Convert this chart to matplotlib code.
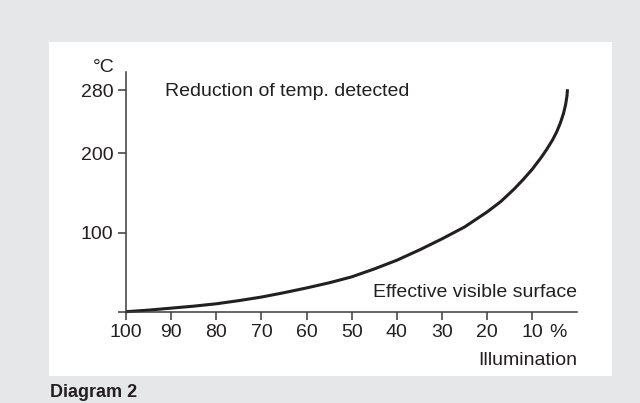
import matplotlib
matplotlib.use("Agg")
import matplotlib.pyplot as plt
from matplotlib.patches import Rectangle

plt.rcParams['font.family'] = ['Liberation Sans', 'DejaVu Sans']

# illumination (%) vs. reduction of detected temperature (°C)
illum = [100, 95, 90, 85, 80, 75, 70, 65, 60, 55, 50, 45, 40, 35, 30,
         25, 20, 17, 14, 12, 10, 8, 6.8, 5.5, 4.6, 3.8, 3.1, 2.6, 2.3, 2.2]
temp = [0, 2, 4.5, 7, 10, 14, 18.5, 24, 30, 36.5, 44, 54, 65, 78, 92,
        107, 126, 139, 155, 167, 180, 195, 205, 217, 227, 238, 250, 262, 273, 281]

xticks = [100, 90, 80, 70, 60, 50, 40, 30, 20, 10]
xlabels = ['100', '90', '80', '70', '60', '50', '40', '30', '20', '10']
yticks = [0, 100, 200, 280]
ylabels = ['', '100', '200', '280']

ink = '#231f20'
W, H = 640, 403
fs = 14

fig = plt.figure(figsize=(6.4, 4.03), dpi=100, facecolor='#e6e7e9')
# white panel
fig.patches.append(Rectangle((49 / W, (H - 376) / H), (612 - 49) / W, (376 - 42) / H,
                             transform=fig.transFigure, facecolor='white',
                             edgecolor='none', zorder=-10))

ax = fig.add_axes([126 / W, (H - 311.7) / H, (577.4 - 126) / W, (311.7 - 72.3) / H])
ax.set_facecolor('none')
ax.plot(illum, temp, color=ink, lw=2.2, solid_capstyle='butt',
        solid_joinstyle='round', clip_on=False)

ax.set_xlim(100, 0)
ax.set_ylim(0, 302.4)
ax.set_xticks(xticks)
ax.set_xticklabels(xlabels)
ax.set_yticks(yticks)
ax.set_yticklabels(ylabels)

for s in ['top', 'right']:
    ax.spines[s].set_visible(False)
for s in ['left', 'bottom']:
    ax.spines[s].set_color('#3a3a3a')
    ax.spines[s].set_linewidth(1.1)
ax.tick_params(direction='out', length=6, width=1.1, color='#3a3a3a',
               labelsize=fs, labelcolor=ink, pad=3)

ax.annotate('%', xy=(4.3, 0), xycoords='data', xytext=(0, -9.0),
            textcoords='offset points', ha='center', va='top',
            fontsize=fs, color=ink, annotation_clip=False)

ax.annotate('°C', xy=(0, 1.0), xycoords='axes fraction', xytext=(-8.5, 0),
            textcoords='offset points', ha='right', va='baseline',
            fontsize=fs, color=ink)
ax.text(0.0864, 0.901, 'Reduction of temp. detected', transform=ax.transAxes,
        ha='left', va='baseline', fontsize=fs, color=ink)
ax.text(1.0, 0.0627, 'Effective visible surface', transform=ax.transAxes,
        ha='right', va='baseline', fontsize=fs, color=ink)
ax.text(1.0, -0.2226, 'Illumination', transform=ax.transAxes,
        ha='right', va='baseline', fontsize=fs, color=ink)

fig.text(50 / W, (H - 397) / H, 'Diagram 2', ha='left', va='baseline',
         fontsize=13, fontweight='bold', color=ink)

fig.savefig('out.png', dpi=100, facecolor=fig.get_facecolor())
